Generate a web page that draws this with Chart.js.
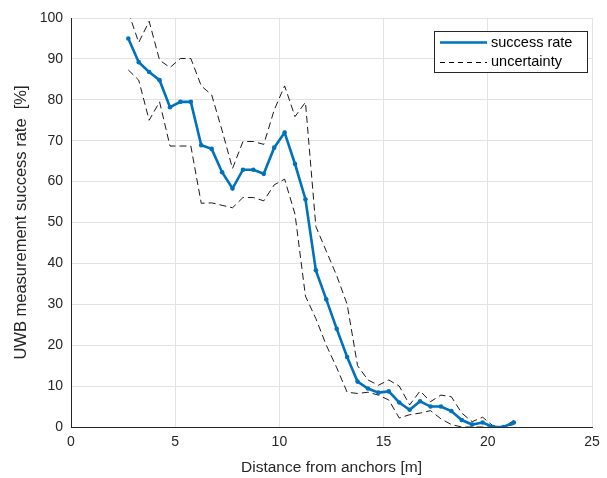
<!DOCTYPE html>
<html>
<head>
<meta charset="utf-8">
<script src="https://cdn.jsdelivr.net/npm/chart.js@4"></script>
<style>
  html, body { margin: 0; padding: 0; background: #fff; }
  #wrap { width: 607px; height: 478px; }
</style>
</head>
<body>
<div id="wrap"><canvas id="rateChart" width="607" height="478"></canvas></div>
<script>
// Distance from anchors [m]
const distance = [2.75, 3.25, 3.75, 4.25, 4.75, 5.25, 5.75, 6.25, 6.75, 7.25,
  7.75, 8.25, 8.75, 9.25, 9.75, 10.25, 10.75, 11.25, 11.75, 12.25,
  12.75, 13.25, 13.75, 14.25, 14.75, 15.25, 15.75, 16.25, 16.75, 17.25,
  17.75, 18.25, 18.75, 19.25, 19.75, 20.25, 20.75, 21.25];

// success rate [%]
const successRate = [95, 89.2, 86.8, 84.8, 78.2, 79.5, 79.5, 68.9, 68.0, 62.3,
  58.3, 62.9, 62.9, 61.9, 68.3, 72.0, 64.3, 55.7, 38.3, 31.2,
  24.0, 17.1, 11.1, 9.4, 8.4, 8.7, 6.0, 4.2, 6.3, 5.0,
  5.0, 3.9, 1.7, 0.6, 1.1, 0, 0, 1.1];

// uncertainty bounds [%]
const upperBound = [101.5, 94, 99.2, 89.7, 87.9, 90.1, 90.1, 83.4, 81.2, 72.5,
  63.2, 69.8, 69.8, 69.1, 77.5, 83.4, 75.9, 79.4, 49, 43,
  37, 30, 15, 11.5, 10.2, 11.5, 10, 5.4, 8.8, 6.2,
  7.8, 7.4, 3.4, 1.3, 2.4, 0.3, 0, 1.6];

const lowerBound = [87.3, 84.8, 75, 79.5, 68.7, 68.7, 68.7, 54.7, 54.8, 54.2,
  53.6, 56.1, 56.1, 55.3, 59.2, 60.6, 52, 32, 26.5, 20,
  14.5, 8.5, 8.2, 8.5, 7.8, 6.6, 2.2, 3, 3.4, 4,
  2, 0.6, 0, 0, 0, 0, 0, 0.6];

const xTicks = [0, 5, 10, 15, 20, 25];
const yTicks = [0, 10, 20, 30, 40, 50, 60, 70, 80, 90, 100];

const toPoints = ys => distance.map((x, i) => ({ x, y: ys[i] }));

const FONT = "'Liberation Sans', Arial, Helvetica, sans-serif";
const TEXT = "#262626";
const BLUE = "#0072BD";

// legend box in the upper right corner of the plot, MATLAB style
const boxLegend = {
  id: "boxLegend",
  afterDraw(chart) {
    const ctx = chart.ctx;
    const area = chart.chartArea;
    const w = 153, h = 41;
    const x0 = area.right - 5 - w, y0 = area.top + 13;
    ctx.save();
    ctx.fillStyle = "#fff";
    ctx.fillRect(x0, y0, w, h);
    ctx.strokeStyle = "#262626";
    ctx.lineWidth = 1;
    ctx.strokeRect(x0 + 0.5, y0 + 0.5, w, h);

    ctx.font = "14.5px " + FONT;
    ctx.fillStyle = "#000";
    ctx.textBaseline = "middle";

    ctx.strokeStyle = BLUE;
    ctx.lineWidth = 2.5;
    ctx.beginPath();
    ctx.moveTo(x0 + 6, y0 + 11.5);
    ctx.lineTo(x0 + 53, y0 + 11.5);
    ctx.stroke();
    ctx.fillText("success rate", x0 + 57, y0 + 12);

    ctx.strokeStyle = "#000";
    ctx.lineWidth = 1;
    ctx.setLineDash([5, 4]);
    ctx.beginPath();
    ctx.moveTo(x0 + 6, y0 + 31.5);
    ctx.lineTo(x0 + 53, y0 + 31.5);
    ctx.stroke();
    ctx.setLineDash([]);
    ctx.fillText("uncertainty", x0 + 57, y0 + 31);
    ctx.restore();
  }
};

new Chart(document.getElementById("rateChart"), {
  type: "line",
  data: {
    datasets: [
      {
        label: "success rate",
        data: toPoints(successRate),
        borderColor: BLUE,
        backgroundColor: BLUE,
        borderWidth: 2.6,
        pointRadius: 2.3,
        pointBorderWidth: 0,
        tension: 0,
        order: 0
      },
      {
        label: "uncertainty",
        data: toPoints(upperBound),
        borderColor: "#000",
        borderWidth: 0.9,
        borderDash: [7, 4],
        pointRadius: 0,
        tension: 0,
        order: 1
      },
      {
        label: "uncertainty",
        data: toPoints(lowerBound),
        borderColor: "#000",
        borderWidth: 0.9,
        borderDash: [7, 4],
        pointRadius: 0,
        tension: 0,
        order: 1
      }
    ]
  },
  options: {
    responsive: false,
    animation: false,
    layout: { padding: { top: 18, right: 15, left: 0, bottom: 0 } },
    plugins: {
      legend: { display: false },
      tooltip: { enabled: false }
    },
    scales: {
      x: {
        type: "linear",
        min: 0,
        max: 25,
        afterBuildTicks: s => { s.ticks = xTicks.map(v => ({ value: v })); },
        afterFit: s => { s.height = 51; },
        grid: { color: "#e3e3e3", drawTicks: false },
        border: { color: TEXT, width: 1 },
        ticks: { color: TEXT, font: { family: FONT, size: 14 }, padding: 7, maxRotation: 0 },
        title: {
          display: true,
          text: "Distance from anchors [m]",
          color: TEXT,
          font: { family: FONT, size: 15.5 },
          padding: { top: 2, bottom: 1 }
        }
      },
      y: {
        min: 0,
        max: 100,
        afterBuildTicks: s => { s.ticks = yTicks.map(v => ({ value: v })); },
        afterFit: s => { s.width = 71; },
        grid: { color: "#e3e3e3", drawTicks: false },
        border: { color: TEXT, width: 1 },
        ticks: { color: TEXT, font: { family: FONT, size: 14 }, padding: 8 },
        title: {
          display: true,
          text: "UWB measurement success rate  [%]",
          color: TEXT,
          font: { family: FONT, size: 16.5 },
          padding: { top: 12, bottom: 0 }
        }
      }
    }
  },
  plugins: [boxLegend]
});
</script>
</body>
</html>
